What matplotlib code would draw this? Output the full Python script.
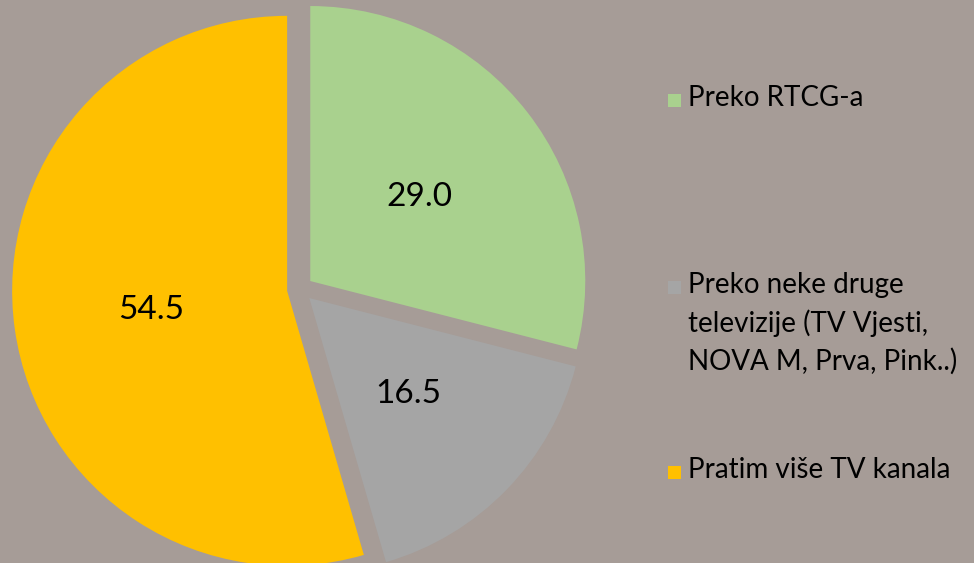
import matplotlib.pyplot as plt
from matplotlib.patches import Rectangle

# data
categories = ['Preko RTCG-a',
              'Preko neke druge\ntelevizije (TV Vjesti,\nNOVA M, Prva, Pink..)',
              'Pratim više TV kanala']
values = [29.0, 16.5, 54.5]
colors = ['#A9D18E', '#A5A5A5', '#FFC000']

W, H = 974, 563
bg = '#A69C97'

fig = plt.figure(figsize=(W / 100, H / 100), dpi=100, facecolor=bg)
ax = fig.add_axes([0, 0, 1, 1])

# pie in pixel coords (y measured from bottom)
wedges, texts, autotexts = ax.pie(values, colors=colors, startangle=90, counterclock=False,
                                  center=(300, H - 289), radius=275, explode=[13, 13, 13],
                                  autopct='%.1f', pctdistance=0.5, frame=True,
                                  textprops=dict(fontsize=24, family='Lato', color='black'))
ax.set_xlim(0, W)
ax.set_ylim(0, H)
ax.set_aspect('equal')
ax.axis('off')

# manual legend, square aligned with first line
legend_y = [100, 287, 472]
for cat, col, y in zip(categories, colors, legend_y):
    ax.add_patch(Rectangle((668, H - y - 6.5), 13, 13, facecolor=col, edgecolor='none'))
    ax.text(688, H - y + 15, cat, fontsize=20, family='Lato', va='top', ha='left',
            linespacing=1.5)

fig.savefig('out.png', dpi=100, facecolor=bg)
